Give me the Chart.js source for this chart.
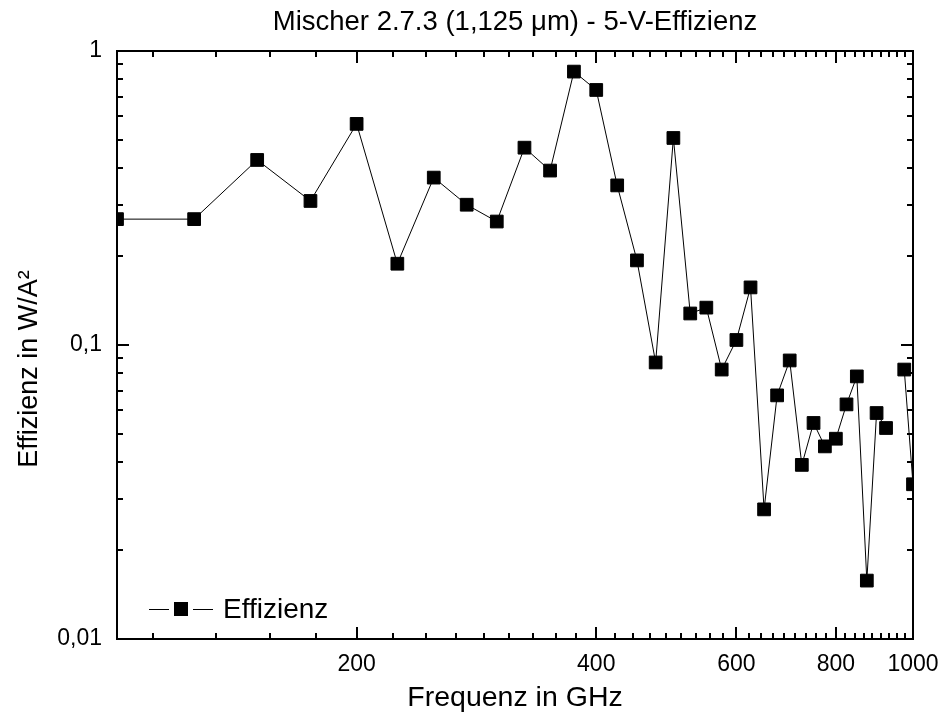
<!DOCTYPE html>
<html><head><meta charset="utf-8">
<script src="https://cdn.jsdelivr.net/npm/chart.js@4/dist/chart.umd.min.js"></script>
<style>html,body{margin:0;padding:0;background:#fff}#wrap{width:944px;height:726px}</style>
</head><body><div id="wrap"><canvas id="c" width="944" height="726"></canvas></div>
<script>
// ---- data ----
const frequencies = [100,125,150,175,200,225,250,275,300,325,350,375,400,425,450,475,500,525,550,575,600,625,650,675,700,725,750,775,800,825,850,875,900,925,950,975,1000];
const efficiency  = [0.268,0.268,0.426,0.309,0.565,0.189,0.371,0.300,0.263,0.469,0.392,0.851,0.737,0.349,0.194,0.0872,0.506,0.128,0.134,0.0825,0.104,0.157,0.0276,0.0674,0.0886,0.0391,0.0543,0.0452,0.048,0.0628,0.0782,0.0158,0.0587,0.0522,null,0.0825,0.0336];
const xTickValues = [200,400,600,800,1000];
const yTickValues = [0.01,0.1,1];
const yTickLabels = ['0,01','0,1','1'];
const seriesName = 'Effizienz';
const chartTitle = 'Mischer 2.7.3 (1,125 \u03bcm) - 5-V-Effizienz';
const xTitle = 'Frequenz in GHz';
const yTitle = 'Effizienz in W/A\u00b2';

const FONT = '"Liberation Sans", Arial, sans-serif';

const points = frequencies.map((f,i)=>({x:f, y:efficiency[i]}));

const framePlugin = {
  id:'frameTicks',
  afterDatasetsDraw(chart){
    const {ctx, chartArea:a, scales:{x,y}} = chart;
    ctx.save();
    ctx.strokeStyle='#000';
    ctx.lineWidth=2;
    ctx.strokeRect(a.left, a.top, a.right-a.left, a.bottom-a.top);
    const MAJ=12, MIN=6;
    const xMinor=[];
    for(let b=0;b<1000;b+=200){for(let j=1;j<=8;j++){const v=b+j*200/9; if(v>x.min && v<x.max) xMinor.push(v);}}
    ctx.beginPath();
    const xt=(v,len)=>{const px=Math.round(x.getPixelForValue(v)); ctx.moveTo(px,a.bottom); ctx.lineTo(px,a.bottom-len); ctx.moveTo(px,a.top); ctx.lineTo(px,a.top+len);};
    xTickValues.forEach(v=>xt(v,MAJ));
    xMinor.forEach(v=>xt(v,MIN));
    const yt=(v,len)=>{const py=Math.round(y.getPixelForValue(v)); ctx.moveTo(a.left,py); ctx.lineTo(a.left+len,py); ctx.moveTo(a.right,py); ctx.lineTo(a.right-len,py);};
    yTickValues.forEach(v=>yt(v,MAJ));
    for(let d=0; d<yTickValues.length-1; d++){for(let m=2;m<=9;m++) yt(yTickValues[d]*m, MIN);}
    ctx.stroke();
    ctx.restore();
  },
  afterDraw(chart){
    const {ctx, chartArea:a} = chart;
    ctx.save();
    ctx.fillStyle='#000';
    ctx.font='27px '+FONT;
    ctx.translate(37, 369);
    ctx.rotate(-Math.PI/2);
    ctx.textAlign='center';
    ctx.textBaseline='alphabetic';
    ctx.fillText(yTitle, 0, 0);
    ctx.restore();
    // legend
    ctx.save();
    const lx=a.left+32, ly=609;
    ctx.strokeStyle='#000'; ctx.lineWidth=1;
    ctx.beginPath(); ctx.moveTo(lx,ly+0.5); ctx.lineTo(lx+20,ly+0.5); ctx.moveTo(lx+44,ly+0.5); ctx.lineTo(lx+64,ly+0.5); ctx.stroke();
    ctx.fillStyle='#000';
    ctx.fillRect(lx+25, ly-7, 14, 14);
    ctx.font='28px '+FONT;
    ctx.textBaseline='alphabetic';
    ctx.textAlign='left';
    ctx.fillText(seriesName, lx+74, ly+9);
    ctx.restore();
  }
};

new Chart(document.getElementById('c'), {
  type:'line',
  data:{datasets:[{
    label:seriesName,
    data:points,
    borderColor:'#000',
    borderWidth:1,
    backgroundColor:'#000',
    pointStyle:'rect',
    pointRadius:9,
    pointBorderWidth:1,
    pointBorderColor:'#000',
    pointBackgroundColor:'#000',
    spanGaps:false,
    tension:0
  }]},
  options:{
    responsive:false,
    animation:false,
    devicePixelRatio:1,
    layout:{padding:{left:0,right:31,top:0,bottom:0}},
    plugins:{
      legend:{display:false},
      tooltip:{enabled:false},
      title:{display:true, text:chartTitle, fullSize:false, color:'#000',
        font:{family:FONT, size:27.5, weight:'normal', lineHeight:1.2},
        padding:{top:6,bottom:12}}
    },
    scales:{
      x:{type:'logarithmic', min:100, max:1000,
        afterBuildTicks:(s)=>{s.ticks=xTickValues.map(v=>({value:v}));},
        afterFit:(s)=>{s.height=87; s.paddingRight=0; s.paddingLeft=0;},
        grid:{display:false, drawTicks:false},
        border:{display:false},
        ticks:{autoSkip:false, maxRotation:0, padding:12, color:'#000',
          font:{family:FONT,size:23}, callback:(v)=>String(v)},
        title:{display:true, text:xTitle, color:'#000', font:{family:FONT,size:28.5}, padding:{top:0,bottom:11}}
      },
      y:{type:'logarithmic', min:0.01, max:1,
        afterBuildTicks:(s)=>{s.ticks=yTickValues.map(v=>({value:v}));},
        afterFit:(s)=>{s.width=117; s.paddingTop=0; s.paddingBottom=0;},
        grid:{display:false, drawTicks:false},
        border:{display:false},
        ticks:{autoSkip:false, padding:15, color:'#000',
          font:{family:FONT,size:23},
          callback:(v)=>{const i=yTickValues.findIndex(t=>Math.abs(t-v)<v*1e-6); return i>=0?yTickLabels[i]:'';}}
      }
    }
  },
  plugins:[framePlugin]
});
</script></body></html>
